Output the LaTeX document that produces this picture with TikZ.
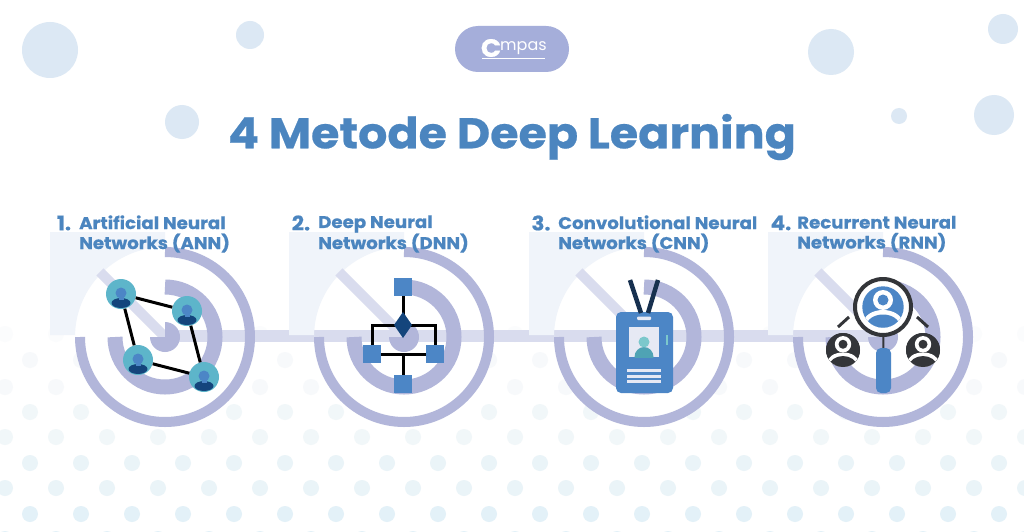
\documentclass[tikz,border=0pt]{standalone}
\usepackage{fontspec}
\setmainfont{Poppins}[BoldFeatures={FakeStretch=1.07,FakeBold=0.5}]
\usetikzlibrary{positioning}
\definecolor{bubbleblue}{HTML}{DCE8F4}
\definecolor{titleblue}{HTML}{4B85BF}
\definecolor{pilllav}{HTML}{A5AEDA}
\definecolor{ringlav}{HTML}{B2B6DA}
\definecolor{lineLav}{HTML}{D9DCEE}
\definecolor{cornerblue}{HTML}{F0F4FA}
\definecolor{tealnode}{HTML}{5DB5CA}
\definecolor{headblue}{HTML}{4C86C6}
\definecolor{navyicon}{HTML}{14457C}
\definecolor{darkicon}{HTML}{333539}
\definecolor{strapnavy}{HTML}{17304F}
\definecolor{photolight}{HTML}{E6E9F4}
\definecolor{photohead}{HTML}{7CC8CC}
\definecolor{photobody}{HTML}{4FA3B4}
\definecolor{dotA}{HTML}{FBFCFD}
\definecolor{dotB}{HTML}{F7F9FB}
\definecolor{dotC}{HTML}{F1F7F9}
\definecolor{dotD}{HTML}{EAF4F8}
\definecolor{dotE}{HTML}{E3F1F8}
\tikzset{
    bubble/.style={fill=bubbleblue},
    bgdot/.style={fill=#1},
    ringline/.style={draw=ringlav, line width=#1},
    numlabel/.style={text=titleblue, font=\bfseries\fontsize{20}{20}\selectfont, inner sep=0pt},
    titlelabel/.style={text=titleblue, font=\bfseries\fontsize{17}{20}\selectfont, align=left, anchor=west, inner sep=0pt},
    annnode/.style={circle, fill=tealnode, minimum size=30pt, inner sep=0pt},
    annlink/.style={draw=black, line width=3pt},
    dnnbox/.style={rectangle, fill=headblue, minimum size=18pt, inner sep=0pt},
    dnnlink/.style={draw=black, line width=3pt},
    annperson/.pic={
        \fill[navyicon] (0,9) ellipse (9.5 and 5);
        \fill[headblue] (-2.5,1) rectangle (2.5,6);
        \fill[headblue] (0,-1) circle (5.5);
    },
    searchperson/.pic={
        \fill[#1] (0,0) circle (20.7);
        \begin{scope}
            \clip (0,0) circle (20.7);
            \fill[white] (0,16) ellipse (19.5 and 13);
            \fill[#1] (0,19) ellipse (16.5 and 11.5);
        \end{scope}
        \fill[white] (0,-7) circle (10);
        \fill[#1] (0,-7) circle (5.5);
    }
}
\begin{document}
\begin{tikzpicture}[x=1pt, y=1pt, yscale=-1]
    \useasboundingbox (0,0) rectangle (1024,532);
    \fill[white] (0,0) rectangle (1024,532);
    % dots along the bottom
    \foreach \rowy/\rowx/\rowcol in {334/5/dotA, 360/30/dotB, 387/5/dotB, 412/30/dotC, 437/5/dotC, 463/30/dotD, 488/5/dotD, 514/30/dotE, 539/5/dotE}
        \foreach \i in {0,...,20}
            \fill[bgdot=\rowcol] ({\rowx+51*\i},\rowy) circle (8);
    % bubbles along the top
    \foreach \bx/\by/\br in {50/50/28, 250/35/14, 182/122/17, 831/52/23, 1003/29/15, 994/115/20, 899/116/8}
        \fill[bubble] (\bx,\by) circle (\br);
    % pill and title
    \node[rectangle, fill=pilllav, rounded corners=23pt, minimum width=114pt, minimum height=46pt] (pill) at (512,49) {};
    \node[text=white, font=\bfseries\fontsize{25}{27}\selectfont, inner sep=0pt] (logoc) at (491,48) {C};
    \node[text=white, font=\fontsize{16}{17}\selectfont, inner sep=0pt, anchor=west] (logotext) at (500,48) {mpas};
    \coordinate (logostart) at (482,58);
    \coordinate (logoend) at (545,58);
    \draw[white, line width=0.6pt] (logostart) -- (logoend);
    \node[text=titleblue, font=\bfseries\fontsize{43}{50}\selectfont, inner sep=0pt] (title) at (512,137) {4 Metode Deep Learning};
    % white discs, then timeline
    \foreach \cx in {165,404,644,883}
        \fill[white] (\cx,337) circle (90);
    \coordinate (linestart) at (165,336);
    \coordinate (lineend) at (883,336);
    \draw[lineLav, line width=12pt] (linestart) -- (lineend);
    % targets
    \foreach \cx in {165,404,644,883} {
        \fill[cornerblue] (\cx-90,335) -- (\cx-115,335) -- (\cx-115,232) -- (\cx,232) -- (\cx,247) arc[start angle=-90, end angle=-180, radius=90] -- cycle;
        \draw[lineLav, line width=10pt] (\cx,337) -- ++(-135:92);
        \draw[ringline=10pt] (\cx,337) ++(-90:85) arc[start angle=-90, end angle=180, radius=85];
        \draw[ringline=15pt] (\cx,337) ++(-90:50) arc[start angle=-90, end angle=180, radius=50];
        \fill[ringlav] (\cx,337) -- ++(-90:15) arc[start angle=-90, end angle=180, radius=15] -- cycle;
    }
    % labels
    \foreach \n/\numx/\txtx/\txt in {1/64/79/{Artificial Neural\\Networks (ANN)}, 2/301/318/{Deep Neural\\Networks (DNN)}, 3/541/558/{Convolutional Neural\\Networks (CNN)}, 4/781/797/{Recurrent Neural\\Networks (RNN)}} {
        \node[numlabel] (num\n) at (\numx,223) {\n.};
        \node[titlelabel] (txt\n) at (\txtx,234) {\txt};
    }
    % ANN
    \begin{scope}
        \tikzstyle{every node}=[annnode]
        \node (ann1) at (121,294) {};
        \node (ann2) at (187,311) {};
        \node (ann3) at (138,360) {};
        \node (ann4) at (204,377) {};
    \end{scope}
    \begin{scope}
        \tikzstyle{every edge}=[annlink]
        \path
        (ann1) edge (ann2)
        (ann1) edge (ann3)
        (ann2) edge (ann4)
        (ann3) edge (ann4);
    \end{scope}
    \foreach \p in {ann1,ann2,ann3,ann4}
        \path (\p) pic[transform shape] {annperson};
    % DNN
    \begin{scope}
        \tikzstyle{every node}=[dnnbox]
        \node (boxtop) at (403,287) {};
        \node (boxleft) at (372,354) {};
        \node (boxright) at (435,354) {};
        \node (boxbottom) at (403,384) {};
    \end{scope}
    \node[inner sep=0pt, minimum size=0pt] (diamondc) at (403,325) {};
    \draw[dnnlink] (boxtop) -- (diamondc);
    \draw[dnnlink] (diamondc) -| (boxleft);
    \draw[dnnlink] (diamondc) -| (boxright);
    \draw[dnnlink] (boxleft) -- (boxright);
    \draw[dnnlink] (boxbottom) -- (boxbottom |- boxleft);
    \fill[navyicon] (403,312) -- (412,325) -- (403,338) -- (394,325) -- cycle;
    % CNN
    \coordinate (strapa) at (630,280);
    \coordinate (strapb) at (658,280);
    \node[rectangle, fill=headblue, rounded corners=5pt, minimum width=57pt, minimum height=81pt, inner sep=0pt] (badge) at (644.5,352.5) {};
    \draw[strapnavy, line width=4.5pt] (strapa) -- (641,313);
    \draw[strapnavy, line width=4.5pt] (strapb) -- (648,313);
    \fill[photolight, rounded corners=1pt] (637,316.5) rectangle (651,320);
    \node[rectangle, fill=photolight, minimum size=30pt, inner sep=0pt] (photo) at (644,342) {};
    \begin{scope}
        \clip (629,327) rectangle (659,357);
        \fill[photobody] (644,357) ellipse (9.5 and 10);
        \fill[photohead] (644,342) circle (5.5);
    \end{scope}
    \fill[photohead] (665.5,335) rectangle (667.5,345);
    \foreach \ly in {369,374.5,380}
        \fill[photolight] (627,\ly) rectangle (661,\ly+3);
    % RNN
    \node[circle, fill=darkicon, minimum size=34pt, inner sep=0pt] (sideleft) at (843,350) {};
    \node[circle, fill=darkicon, minimum size=34pt, inner sep=0pt] (sideright) at (923,350) {};
    \path (sideleft) pic[transform shape, scale=0.82] {searchperson=darkicon};
    \path (sideright) pic[transform shape, scale=0.82] {searchperson=darkicon};
    \coordinate (arcla) at (838,327);
    \coordinate (arclb) at (849,317);
    \coordinate (arcra) at (917,317);
    \coordinate (arcrb) at (928,327);
    \draw[darkicon, line width=3pt] (arcla) -- (arclb);
    \draw[darkicon, line width=3pt] (arcra) -- (arcrb);
    \node[rectangle, fill=headblue, rounded corners=5pt, minimum width=15pt, minimum height=45pt, inner sep=0pt] (grip) at (883.5,370.5) {};
    \node[circle, draw=darkicon, line width=4pt, fill=white, minimum size=56pt, inner sep=0pt] (lens) at (883,307) {};
    \draw[darkicon, line width=2pt] (lens) -- (grip);
    \path (lens) pic[transform shape] {searchperson=headblue};
\end{tikzpicture}
\end{document}
